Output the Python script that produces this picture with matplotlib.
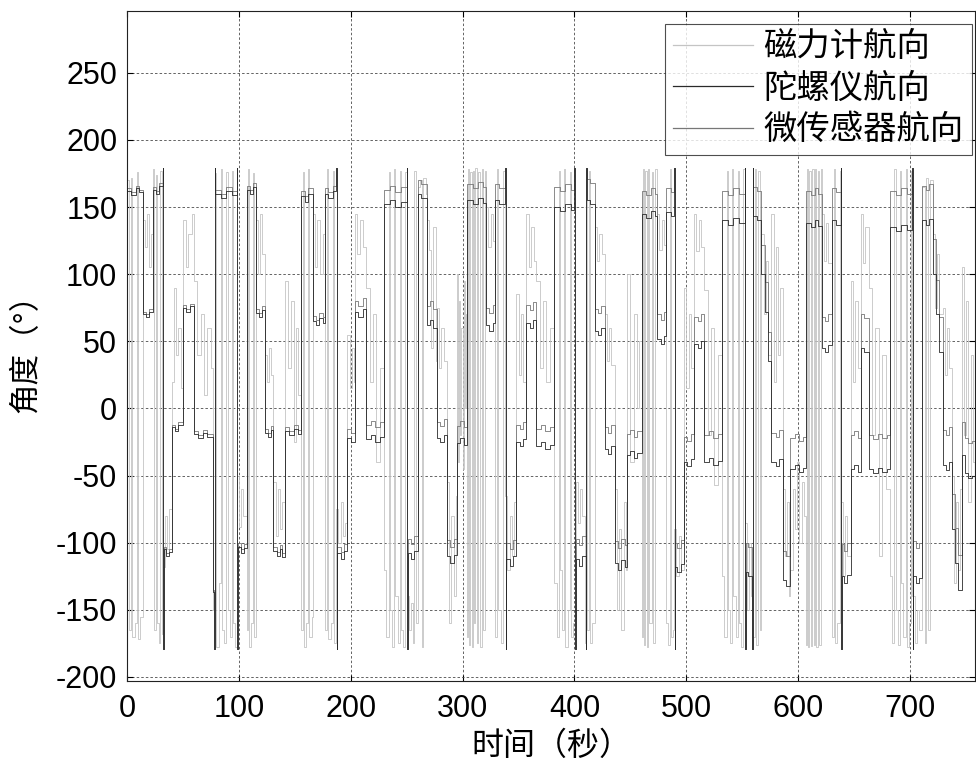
import matplotlib
matplotlib.use("Agg")
import matplotlib.pyplot as plt
import numpy as np

plt.rcParams["font.family"] = ["Liberation Sans", "Noto Sans CJK SC", "DejaVu Sans"]
plt.rcParams["axes.unicode_minus"] = False

LABELS = ["磁力计航向", "陀螺仪航向", "微传感器航向"]
X_TICKS = list(range(0, 701, 100))
Y_TICKS = list(range(-200, 251, 50))

# gyro heading (t [s], deg)
GYRO = [
    (0, 162), (4, 159), (8, 164), (11, 161),
    (14, 70), (17, 68), (20, 72),
    (23, 163), (26, 160), (29, 166),
    (32, 179), (32.5, -179), (33, -105), (35, -110), (38, -107),
    (40, -14), (43, -17), (46, -12),
    (50, 75), (53, 72), (56, 76),
    (60, -19), (64, -22), (68, -18), (72, -21),
    (77, -137), (78, -179), (78.5, 179), (79, 160), (84, 157), (89, 162), (94, 159),
    (98, 179), (98.5, -179), (99, -103), (102, -108), (105, -104),
    (107, 163), (110, 160), (113, 165),
    (115, 71), (118, 68), (121, 73),
    (123, -18), (126, -21), (129, -16),
    (131, -106), (134, -110), (137, -105), (139, -111),
    (141, -17), (145, -20), (149, -15), (153, -19),
    (156, 158), (159, 154), (162, 160),
    (166, 65), (169, 62), (172, 67), (175, 64),
    (177, 160), (180, 157), (184, 162),
    (187, 179), (187.5, -179), (188, -108), (191, -112), (194, -106),
    (197, -22), (200, -25),
    (204, 72), (207, 68), (211, 74),
    (214, -23), (218, -20), (222, -25), (226, -21),
    (230, 152), (235, 155), (240, 150), (245, 154),
    (250, 179), (250.5, -179), (251, -108), (254, -112), (257, -106),
    (260, 160), (263, 157),
    (268, 62), (271, 66), (274, 60),
    (277, -22), (280, -25), (283, -20),
    (286, -110), (289, -115), (292, -109),
    (295, -26), (298, -22), (301, -27),
    (304, 155), (309, 152), (314, 157), (318, 153),
    (321, 62), (324, 58), (327, 64),
    (329, 155), (333, 152),
    (338, 179), (338.5, -179), (339, -112), (342, -117), (345, -110),
    (348, -25), (351, -28), (354, -23),
    (357, 64), (360, 60), (363, 66),
    (366, -28), (370, -25), (374, -30), (378, -27),
    (382, 150), (387, 147), (392, 152), (397, 148),
    (400, 179), (400.5, -179), (401, -112), (404, -117), (407, -110),
    (410, -179), (410.5, 179), (411, 155), (414, 152),
    (418, 58), (421, 55), (424, 60),
    (427, -30), (430, -34), (433, -28),
    (436, -115), (439, -120), (442, -113), (445, -118),
    (447, -35), (450, -32), (453, -37), (456, -33),
    (460, 145), (464, 142), (468, 147), (472, 143),
    (474, 52), (477, 48), (480, 54),
    (482, 146), (486, 143),
    (489, 179), (489.5, -179), (490, -118), (492, -122), (495, -116),
    (498, -40), (501, -43), (504, -38),
    (507, 48), (510, 45), (513, 50),
    (516, -40), (520, -37), (524, -42), (528, -39),
    (532, 140), (537, 137), (542, 142), (547, 138),
    (552, 179), (552.5, -179), (553, -122), (555, -125),
    (559, -179), (559.5, 179), (560, 143), (563, 140),
    (567, 100), (570, 72), (573, 35),
    (576, -40), (580, -43), (583, -38),
    (586, -128), (589, -132),
    (593, -45), (597, -42), (601, -47), (604, -44),
    (607, 138), (611, 135), (615, 140), (618, 136),
    (621, 45), (624, 42), (627, 47),
    (630, 140), (634, 137),
    (638, 179), (638.5, -179), (639, -125), (641, -130), (644, -124),
    (647, -45), (650, -42), (653, -47),
    (656, 45), (659, 42),
    (663, -45), (667, -48), (671, -44), (675, -47), (679, -45),
    (682, 135), (687, 132), (692, 137), (697, 133),
    (702, 179), (702.5, -179), (703, -125), (705, -130), (708, -126),
    (711, 140), (714, 137), (717, 141),
    (720, 100), (723, 70), (726, 42),
    (729, -42), (732, -46), (735, -40),
    (737, -90), (740, -115), (743, -135),
    (746, -35), (749, -48), (752, -52), (755, -50), (760, -50),
]

# micro sensor heading (t [s], deg)
MICRO = [
    (0, 164), (4, 161), (8, 166), (11, 163),
    (14, 72), (17, 70), (20, 74),
    (23, 165), (26, 162), (29, 168),
    (32, 179), (32.5, -179), (33, -103), (35, -108), (38, -105),
    (40, -12), (43, -15), (46, -10),
    (50, 77), (53, 74), (56, 78),
    (60, -17), (64, -20), (68, -16), (72, -19),
    (77, -135), (78, -179), (78.5, 179), (79, 163), (84, 160), (89, 165), (94, 162),
    (98, 179), (98.5, -179), (99, -100), (102, -105), (105, -101),
    (107, 166), (110, 163), (113, 168),
    (115, 74), (118, 71), (121, 76),
    (123, -15), (126, -18), (129, -13),
    (131, -103), (134, -107), (137, -102), (139, -108),
    (141, -14), (145, -17), (149, -12), (153, -16),
    (156, 162), (159, 158), (162, 164),
    (166, 69), (169, 66), (172, 71), (175, 68),
    (177, 164), (180, 161), (184, 166),
    (187, 179), (187.5, -179), (188, -103), (191, -107), (194, -101),
    (197, -15), (200, -18),
    (204, 80), (207, 76), (211, 82),
    (214, -12), (218, -9), (222, -14), (226, -10),
    (230, 163), (235, 166), (240, 161), (245, 165),
    (250, 179), (250.5, -179), (251, -97), (254, -101), (257, -95),
    (260, 170), (263, 167),
    (268, 76), (271, 80), (274, 74),
    (277, -10), (280, -13), (283, -8),
    (286, -98), (289, -103), (292, -97),
    (295, -13), (298, -9), (301, -14),
    (304, 167), (309, 164), (314, 169), (318, 165),
    (321, 75), (324, 71), (327, 77),
    (329, 167), (333, 164),
    (338, 179), (338.5, -179), (339, -100), (342, -105), (345, -98),
    (348, -12), (351, -15), (354, -10),
    (357, 77), (360, 73), (363, 79),
    (366, -15), (370, -12), (374, -17), (378, -14),
    (382, 165), (387, 162), (392, 167), (397, 163),
    (400, 179), (400.5, -179), (401, -97), (404, -102), (407, -95),
    (410, -179), (410.5, 179), (411, 171), (414, 168),
    (418, 74), (421, 71), (424, 76),
    (427, -14), (430, -18), (433, -12),
    (436, -99), (439, -104), (442, -97), (445, -102),
    (447, -19), (450, -16), (453, -21), (456, -17),
    (460, 162), (464, 159), (468, 164), (472, 160),
    (474, 70), (477, 66), (480, 72),
    (482, 164), (486, 161),
    (489, 179), (489.5, -179), (490, -100), (492, -104), (495, -98),
    (498, -21), (501, -24), (504, -19),
    (507, 68), (510, 65), (513, 70),
    (516, -20), (520, -17), (524, -22), (528, -19),
    (532, 162), (537, 159), (542, 164), (547, 160),
    (552, 179), (552.5, -179), (553, -100), (555, -103),
    (559, -179), (559.5, 179), (560, 165), (563, 162),
    (567, 122), (570, 94), (573, 57),
    (576, -18), (580, -21), (583, -16),
    (586, -106), (589, -110),
    (593, -22), (597, -19), (601, -24), (604, -21),
    (607, 162), (611, 159), (615, 164), (618, 160),
    (621, 68), (624, 65), (627, 70),
    (630, 164), (634, 161),
    (638, 179), (638.5, -179), (639, -101), (641, -106), (644, -100),
    (647, -20), (650, -17), (653, -22),
    (656, 70), (659, 67),
    (663, -20), (667, -23), (671, -19), (675, -22), (679, -20),
    (682, 162), (687, 159), (692, 164), (697, 160),
    (702, 179), (702.5, -179), (703, -99), (705, -104), (708, -100),
    (711, 166), (714, 163), (717, 167),
    (720, 126), (723, 96), (726, 68),
    (729, -16), (732, -20), (735, -14),
    (737, -64), (740, -89), (743, -109),
    (746, -10), (749, -22), (752, -26), (755, -24), (760, -24),
]

# magnetometer heading (t [s], deg) - noisy, wraps often near +-180
MAG = [
    (0, 170), (2, -165), (4, 172), (5, -170), (7, -160), (9, 176), (10, -172), (12, -155),
    (14, 140), (16, 120), (18, 145), (20, 105), (22, 130),
    (23, 178), (24, -165), (26, 174), (27, -160), (29, -175), (30, 177), (31, -168),
    (32, -118), (34, -80), (36, -105), (38, -75),
    (40, 20), (42, 90), (44, 40), (46, 60), (48, 15),
    (50, 140), (53, 105), (55, 130), (58, 145),
    (60, 95), (63, 40), (66, 70), (69, 10), (72, 60), (75, 30),
    (77, -150), (79, 175), (80, -178), (82, -130), (84, 178), (85, -165), (87, -175),
    (89, 176), (90, -150), (92, -170), (94, 177), (95, -160), (97, -178),
    (98, -50), (100, -88), (102, -60), (104, -80),
    (107, -165), (108, 178), (109, -178), (111, -160), (113, 175), (114, -170),
    (115, 140), (117, 100), (119, 145), (121, 115),
    (123, 40), (125, 20), (127, 45), (129, 25),
    (131, -55), (133, -95), (135, -60), (137, -90), (139, -70),
    (141, 95), (144, 30), (147, 80), (149, -25), (151, 60), (153, 10),
    (156, -165), (157, 176), (158, -178), (160, -160), (162, 178), (163, -170), (165, -155),
    (166, 145), (168, 105), (170, 140), (173, 100), (175, 130),
    (177, -165), (179, 178), (180, -172), (182, -160), (184, 177), (185, -175),
    (187, -75), (189, -100), (191, -70), (193, -95), (195, -85),
    (197, 55), (199, 15), (201, 45), (203, 20),
    (204, 145), (206, 115), (208, 140), (211, 120),
    (214, 90), (217, 20), (220, 70), (223, -40), (226, 30),
    (230, -120), (232, -170), (234, 176), (235, -150), (237, -178), (239, 178), (240, -140),
    (242, -175), (244, 177), (245, -165), (247, -178), (249, 176),
    (250, -140), (252, -165), (254, -145), (256, -175), (257, 177), (258, -160),
    (260, 165), (262, 170), (264, -178), (265, 172), (267, 160),
    (268, 140), (270, 118), (272, 45), (274, 135), (276, 35),
    (277, 75), (279, 30), (281, 60), (283, 35),
    (286, -55), (288, -160), (290, -80), (292, -140), (294, -65),
    (295, 100), (296, -40), (297, 80), (298, -20), (299, 60), (300, -45), (301, 95), (302, 0), (303, 70),
    (304, -170), (305, 178), (306, -176), (307, 176), (308, -178), (309, 177), (310, -160),
    (311, 179), (313, -175), (314, 176), (316, -178), (317, 178), (318, -165), (320, 177),
    (321, 150), (323, 120), (325, 145), (327, 125),
    (329, -170), (331, 178), (332, -150), (334, -175), (336, 177),
    (338, -65), (340, -120), (342, -80), (344, -110), (346, -70),
    (348, 85), (350, 25), (352, 70), (354, 20),
    (357, 145), (359, 105), (361, 135), (364, 110),
    (366, 95), (369, 30), (372, 80), (375, 20), (378, 60),
    (382, -130), (384, -170), (386, 177), (387, -120), (389, -165), (391, 178), (392, -178),
    (394, -150), (396, 176), (397, -170), (399, -160),
    (401, -55), (403, -85), (405, -60), (407, -80), (409, -175), (410, 178),
    (411, -165), (413, 177), (414, -175), (416, -160),
    (418, 135), (420, 110), (422, 130), (425, 115),
    (427, 70), (429, 35), (431, 60), (433, 32),
    (436, -60), (438, -150), (440, -90), (442, -165), (444, -70), (446, -120),
    (447, 100), (450, -40), (453, 70), (456, 0), (458, 50),
    (460, -170), (461, 178), (462, -176), (463, 177), (465, -178), (466, 178), (467, -160),
    (469, 176), (470, -175), (472, 178),
    (474, 145), (476, 118), (478, 140), (480, 122),
    (482, -160), (484, -176), (485, 178), (486, -170), (488, -165),
    (489, -90), (491, -125), (493, -95), (495, -120),
    (498, 90), (500, 15), (502, 70), (504, 30),
    (507, 145), (509, 117), (511, 140), (513, 120),
    (516, 88), (519, -20), (522, 60), (525, -57), (528, 40),
    (532, -125), (534, -170), (536, 177), (537, -150), (539, -175), (541, 178), (542, -140),
    (544, -170), (546, 177), (547, -160), (549, -178), (551, 178),
    (552, -85), (554, -150), (556, -100), (558, -140),
    (559, -170), (561, 178), (562, -176), (564, 177), (566, -165),
    (567, 130), (569, 70), (571, 110), (573, 40),
    (576, 145), (578, 20), (580, 120), (582, 40), (584, 90),
    (586, -60), (588, -110), (590, -70), (592, -140),
    (593, -120), (595, -60), (597, -90), (599, -40), (601, -100), (603, -55), (605, -80),
    (607, -176), (608, 178), (609, -178), (610, 177), (611, -177), (612, 178), (614, -176),
    (615, 178), (616, -178), (618, 177), (619, -176), (620, 178),
    (621, 145), (623, 110), (625, 138), (627, 108),
    (630, -170), (632, 178), (633, -175), (635, -160), (637, 177),
    (638, -70), (640, -125), (642, -80), (644, -110),
    (647, 95), (649, 20), (651, 80), (653, 30),
    (656, 145), (658, 108), (660, 135),
    (663, 90), (666, -20), (669, 60), (672, -110), (675, 40), (678, -60),
    (682, -125), (684, -175), (686, 178), (687, -150), (689, -176), (691, 177), (692, -130),
    (694, -170), (696, 178), (697, -178), (699, -160), (701, 177),
    (702, -140), (704, -175), (706, -150), (708, -165),
    (711, 165), (713, -175), (714, 172), (716, -165), (718, 170),
    (720, 130), (722, 75), (724, 115), (726, 70),
    (729, 75), (731, 25), (733, 60), (735, 30),
    (737, -50), (739, -130), (741, -70), (743, -120), (745, -60),
    (746, 105), (748, -20), (750, 80), (752, -70), (754, 40), (756, -40), (760, -40),
]

COLORS = ["#c4c4c4", "#2a2a2a", "#777777"]
WIDTHS = [0.6, 0.6, 0.6]


def main() -> None:
    fig = plt.figure(figsize=(9.76, 7.71), dpi=100)
    ax = fig.add_axes([0.130, 0.1167, 0.869, 0.869])

    series = [MAG, GYRO, MICRO]
    lines = {}
    # draw order: magnetometer at the back, gyro on top
    for idx in (0, 2, 1):
        pts = np.asarray(series[idx], dtype=float)
        (ln,) = ax.plot(pts[:, 0], pts[:, 1], drawstyle="steps-post",
                        color=COLORS[idx], linewidth=WIDTHS[idx], label=LABELS[idx])
        lines[idx] = ln

    ax.set_xlim(0, 758)
    ax.set_ylim(-203, 296)
    ax.set_xticks(X_TICKS)
    ax.set_yticks(Y_TICKS)
    ax.tick_params(direction="in", length=4, width=0.8, labelsize=22,
                   top=True, right=True)
    ax.tick_params(axis="x", pad=9)
    ax.tick_params(axis="y", pad=7)
    ax.grid(True, color="#4a4a4a", linestyle=(0, (3, 2.5)), linewidth=0.6)
    for sp in ax.spines.values():
        sp.set_linewidth(0.8)
        sp.set_color("#222222")

    ax.set_xlabel("时间（秒）", fontsize=23, labelpad=6)
    ax.set_ylabel("角度（°）", fontsize=22, labelpad=10)

    leg = ax.legend([lines[0], lines[1], lines[2]], LABELS,
                    loc="upper right", bbox_to_anchor=(0.9965, 0.9806),
                    borderaxespad=0, fontsize=24, frameon=True, fancybox=False,
                    handlelength=2.4, handletextpad=0.3, labelspacing=0.3,
                    borderpad=0.25)
    leg.get_frame().set_edgecolor("#222222")
    leg.get_frame().set_linewidth(0.8)
    for h in leg.get_lines():
        h.set_linewidth(0.9)

    fig.savefig("out.png", dpi=100)


if __name__ == "__main__":
    main()
